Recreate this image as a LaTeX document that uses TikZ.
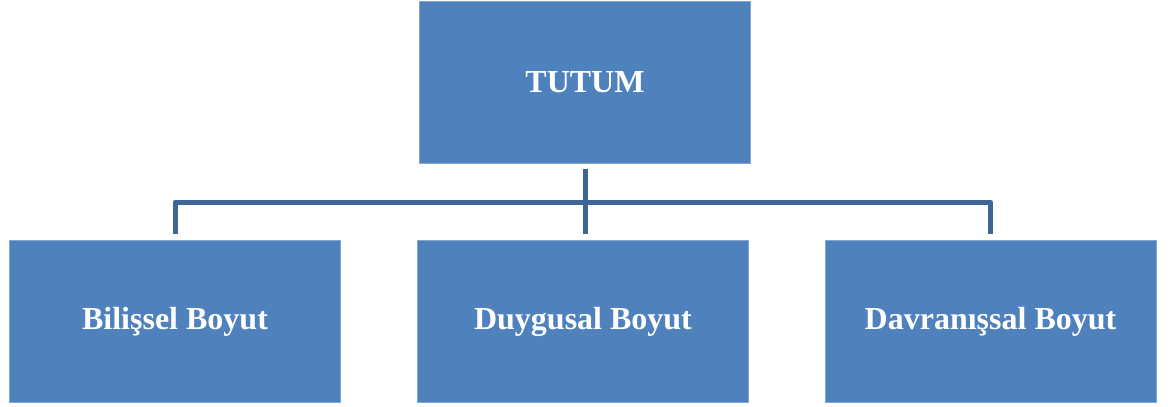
\documentclass[tikz,border=0pt]{standalone}
\usepackage{fontspec}
\setmainfont{Liberation Serif}
\definecolor{boxblue}{HTML}{4F81BD}
\definecolor{lineblue}{HTML}{3D6596}
\begin{document}
\begin{tikzpicture}[x=1pt,y=-1pt,
  boxnode/.style={fill=boxblue, draw=boxblue!70!white, line width=0.6pt, minimum width=331pt, minimum height=162pt, inner sep=0pt, text=white, font=\fontsize{32}{38}\selectfont\bfseries},
  conn/.style={draw=lineblue, line width=5pt, line join=round}]
\useasboundingbox (0,0) rectangle (1168,407);
\node[boxnode] (top) at (585,82.5) {TUTUM};
\node[boxnode] (b1) at (175,321.5) {Bilişsel Boyut};
\node[boxnode] (b2) at (583,321.5) {Duygusal Boyut};
\node[boxnode] (b3) at (990.5,321.5) {Davranışsal Boyut};
\coordinate (j) at (585,202);
\coordinate (jl) at (175,202);
\coordinate (jr) at (990,202);
\draw[conn] ([yshift=-5pt]top.south) -- (j);
\draw[conn] ([yshift=6pt]b1.north -| jl) -- (jl) -- (jr) -- ([yshift=6pt]b3.north -| jr);
\draw[conn] (j) -- ([yshift=6pt]b2.north -| j);
\end{tikzpicture}
\end{document}
